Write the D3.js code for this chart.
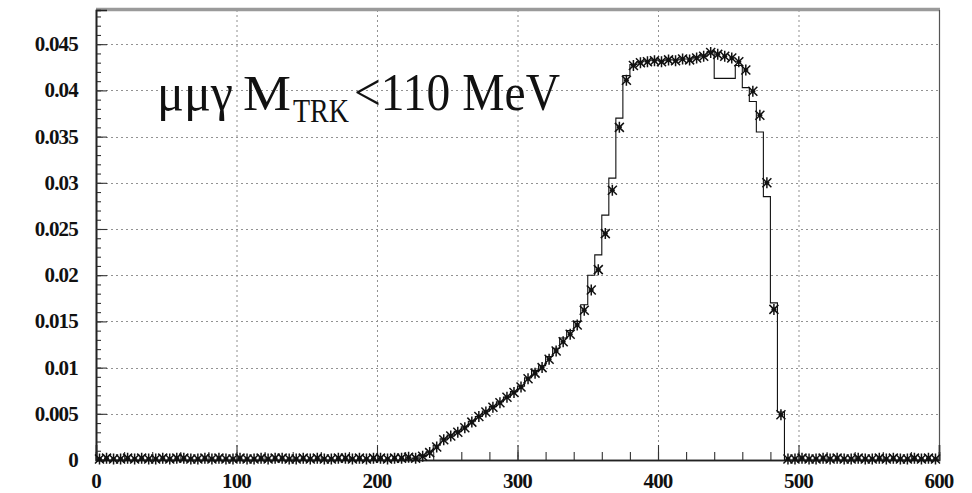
<!DOCTYPE html>
<html>
<head>
<meta charset="utf-8">
<script src="https://cdn.jsdelivr.net/npm/d3@7"></script>
<style>
  html, body { margin: 0; padding: 0; background: #fff; }
  svg { display: block; }
</style>
</head>
<body>
<svg id="chart" width="972" height="493"></svg>
<script>
// Energy spectrum, 5 MeV bins from 0 to 600
const binWidth = 5;
const xTicks = [0, 100, 200, 300, 400, 500, 600];
const yTicks = [0, 0.005, 0.01, 0.015, 0.02, 0.025, 0.03, 0.035, 0.04, 0.045];
const yTickLabels = ["0", "0.005", "0.01", "0.015", "0.02", "0.025", "0.03", "0.035", "0.04", "0.045"];

// measured data (points with markers)
const dataValues = [
  0.0001,0.0002,0.0001,0.0001,0.0002,0.0001,0.0002,0.0001,0.0001,0.0002,
  0.0001,0.0002,0.0002,0.0001,0.0001,0.0002,0.0001,0.0002,0.0001,0.0001,
  0.0002,0.0001,0.0001,0.0002,0.0001,0.0002,0.0002,0.0001,0.0001,0.0002,
  0.0001,0.0002,0.0001,0.0001,0.0002,0.0002,0.0001,0.0002,0.0001,0.0002,
  0.0002,0.0001,0.0002,0.0002,0.0003,
  0.0002,0.0004,0.0008,0.0014,0.0022,
  0.0026,0.0030,0.0035,0.0041,0.0047,
  0.0052,0.0057,0.0062,0.0068,0.0073,
  0.0079,0.0088,0.0094,0.0100,0.0109,
  0.0118,0.0128,0.0136,0.0146,0.0162,
  0.0184,0.0206,0.0245,0.0292,0.0360,
  0.0411,0.0427,0.0430,0.0431,0.0432,
  0.0431,0.0433,0.0432,0.0434,0.0433,
  0.0435,0.0437,0.0441,0.0439,0.0437,
  0.0435,0.0431,0.0422,0.0399,0.0373,
  0.0300,0.0163,0.0049,0.0001,0.0001,
  0.0002,0.0001,0.0001,0.0002,0.0001,0.0002,0.0001,0.0001,0.0002,0.0001,
  0.0001,0.0002,0.0001,0.0002,0.0001,0.0001,0.0002,0.0001,0.0002,0.0001
];

// simulated spectrum (step histogram)
const mcValues = [
  0,0,0,0,0,0,0,0,0,0,
  0,0,0,0,0,0,0,0,0,0,
  0,0,0,0,0,0,0,0,0,0,
  0,0,0,0,0,0,0,0,0,0,
  0,0,0,0,0.0001,
  0.0002,0.0005,0.0009,0.0016,0.0023,
  0.0027,0.0031,0.0036,0.0042,0.0047,
  0.0053,0.0058,0.0063,0.0068,0.0074,
  0.0080,0.0089,0.0097,0.0102,0.0112,
  0.0121,0.0132,0.0140,0.0150,0.0168,
  0.0200,0.0222,0.0265,0.0305,0.0370,
  0.0416,0.0428,0.0431,0.0432,0.0433,
  0.0432,0.0433,0.0433,0.0434,0.0434,
  0.0436,0.0438,0.0442,0.0413,0.0413,
  0.0413,0.0427,0.0403,0.0388,0.0355,
  0.0285,0.0170,0.0052,0,0,
  0,0,0,0,0,0,0,0,0,0,
  0,0,0,0,0,0,0,0,0,0
];

const svg = d3.select("#chart");
const plotL = 96, plotR = 939, plotT = 10, plotB = 460;

const x = d3.scaleLinear().domain([0, 600]).range([plotL, plotR]);
const y = d3.scaleLinear().domain([0, 0.0487]).range([plotB, plotT]);

const serif = "'Liberation Serif', 'DejaVu Serif', serif";

// grid
const grid = svg.append("g").attr("stroke", "#777").attr("stroke-width", 1)
  .attr("stroke-dasharray", "2,3").attr("opacity", 0.8);
grid.selectAll("line.v").data(xTicks.filter(t => t > 0 && t < 600)).join("line")
  .attr("class", "v")
  .attr("x1", d => x(d) + 0.5).attr("x2", d => x(d) + 0.5)
  .attr("y1", plotT).attr("y2", plotB);
grid.selectAll("line.h").data(yTicks.filter(t => t > 0)).join("line")
  .attr("class", "h")
  .attr("y1", d => Math.round(y(d)) + 0.5).attr("y2", d => Math.round(y(d)) + 0.5)
  .attr("x1", plotL).attr("x2", plotR);

// frame
svg.append("line").attr("x1", plotL).attr("x2", plotR + 1).attr("y1", plotT - 0.5).attr("y2", plotT - 0.5)
  .attr("stroke", "#9a9a9a").attr("stroke-width", 3.5);
svg.append("line").attr("x1", plotR + 0.5).attr("x2", plotR + 0.5).attr("y1", plotT).attr("y2", plotB)
  .attr("stroke", "#555").attr("stroke-width", 1.2);

// axes with inward ticks
const xMinor = d3.range(0, 601, 20);
const yMinor = d3.range(0, 0.0487, 0.001);

const xAxisMinor = d3.axisTop(x).tickValues(xMinor).tickSize(8).tickFormat("");
const xAxisMajor = d3.axisTop(x).tickValues(xTicks).tickSize(15).tickFormat("");
const gx = svg.append("g").attr("transform", `translate(0,${plotB})`);
gx.append("g").call(xAxisMinor);
gx.append("g").call(xAxisMajor);
gx.selectAll(".domain").attr("stroke", "#222").attr("stroke-width", 1.6);
gx.selectAll(".tick line").attr("stroke", "#333").attr("stroke-width", 1.1);

const yAxisMinor = d3.axisRight(y).tickValues(yMinor).tickSize(5).tickFormat("");
const yAxisMajor = d3.axisRight(y).tickValues(yTicks).tickSize(11).tickFormat("");
const gy = svg.append("g").attr("transform", `translate(${plotL},0)`);
gy.append("g").call(yAxisMinor);
gy.append("g").call(yAxisMajor);
gy.selectAll(".domain").attr("stroke", "#222").attr("stroke-width", 1.6);
gy.selectAll(".tick line").attr("stroke", "#333").attr("stroke-width", 1.1);

// tick labels
svg.append("g").selectAll("text").data(xTicks).join("text")
  .attr("x", d => x(d)).attr("y", 488)
  .attr("text-anchor", "middle")
  .attr("font-family", serif).attr("font-weight", "bold").attr("font-size", 21)
  .attr("letter-spacing", -0.8)
  .attr("fill", "#111")
  .text(d => d);

svg.append("g").selectAll("text").data(yTicks).join("text")
  .attr("x", 78).attr("y", d => y(d) + 7)
  .attr("text-anchor", "end")
  .attr("font-family", serif).attr("font-weight", "bold").attr("font-size", 21)
  .attr("letter-spacing", -0.8)
  .attr("fill", "#111")
  .text((d, i) => yTickLabels[i]);

// simulated step histogram
const stepPts = [];
mcValues.forEach((v, i) => {
  stepPts.push([i * binWidth, v]);
  stepPts.push([(i + 1) * binWidth, v]);
});
svg.append("path")
  .attr("d", d3.line().x(d => x(d[0])).y(d => y(d[1]))(stepPts))
  .attr("fill", "none").attr("stroke", "#111").attr("stroke-width", 1.1);

// data markers
const pts = dataValues.map((v, i) => ({ c: i * binWidth + binWidth / 2, v }));
const mk = svg.append("g").attr("stroke", "#111").attr("stroke-width", 1.5).attr("fill", "none");
mk.selectAll("path").data(pts).join("path")
  .attr("transform", d => `translate(${x(d.c)},${y(d.v)})`)
  .attr("d", "M-4.5,-4.5L4.5,4.5M-4.5,4.5L4.5,-4.5M0,-5.5L0,5.5M-2.5,0L2.5,0");

// annotation
const ann = svg.append("g").attr("font-family", serif).attr("fill", "#111");
ann.append("text").attr("x", 157).attr("y", 110).attr("font-size", 52)
  .attr("textLength", 76).attr("lengthAdjust", "spacingAndGlyphs").text("μμγ");
ann.append("text").attr("x", 243).attr("y", 110).attr("font-size", 50)
  .attr("textLength", 48).attr("lengthAdjust", "spacingAndGlyphs").text("M");
ann.append("text").attr("x", 293).attr("y", 122).attr("font-size", 34)
  .attr("textLength", 56).attr("lengthAdjust", "spacingAndGlyphs").text("TRK");
ann.append("text").attr("x", 354).attr("y", 110).attr("font-size", 52)
  .attr("textLength", 206).attr("lengthAdjust", "spacingAndGlyphs").text("<110 MeV");
</script>
</body>
</html>
